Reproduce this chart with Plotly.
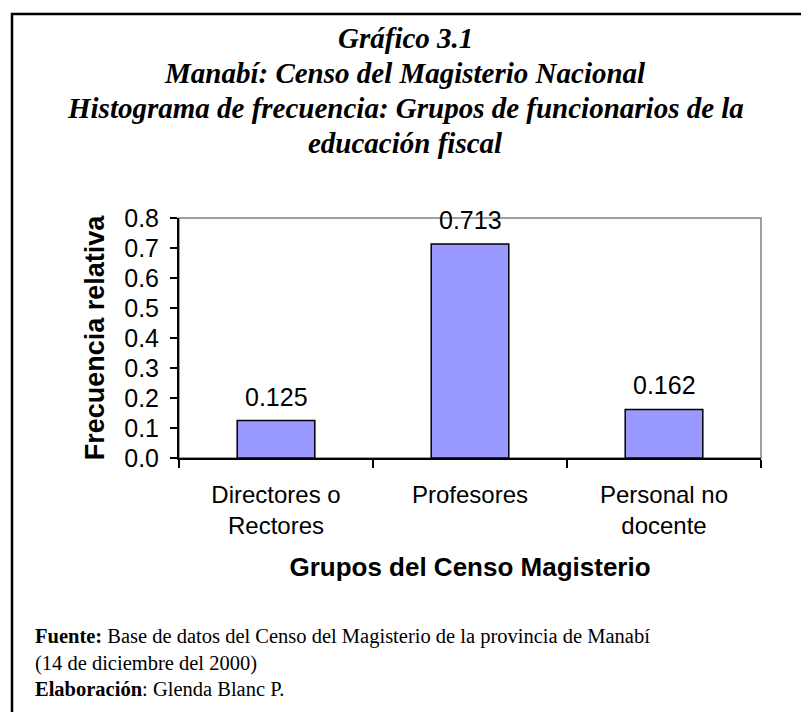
import plotly.graph_objects as go

# data
grupos = ["Directores o<br>Rectores", "Profesores", "Personal no<br>docente"]
frecuencia = [0.125, 0.713, 0.162]
y_ticks = [0.0, 0.1, 0.2, 0.3, 0.4, 0.5, 0.6, 0.7, 0.8]

titulo = ["Gráfico 3.1",
          "Manabí: Censo del Magisterio Nacional",
          "Histograma de frecuencia: Grupos de funcionarios de la",
          "educación fiscal"]
fuente = ["<b>Fuente:</b> Base de datos del Censo del Magisterio de la provincia de Manabí",
          "(14 de diciembre del 2000)",
          "<b>Elaboración</b>: Glenda Blanc P."]

SANS = "Liberation Sans, Arial, sans-serif"
SERIF = "Liberation Serif, Times New Roman, serif"

W, H = 809, 712
OFF = 8  # page body margin
L, T = 179 - OFF, 218 - OFF
pw, ph = 582, 240
R, B = W - L - pw, H - T - ph


def px_x(x):
    return (x - OFF - L) / pw


def px_y(y):
    return (T + ph - (y - OFF)) / ph


fig = go.Figure(
    go.Bar(
        x=grupos,
        y=frecuencia,
        marker=dict(color="#9999FF", line=dict(color="black", width=1.5)),
        width=0.4,
    )
)

# value labels above the bars
for g, v in zip(grupos, frecuencia):
    fig.add_annotation(x=g, y=v, text=f"{v:.3f}", showarrow=False, yshift=24,
                       yanchor="middle", font=dict(family=SANS, size=25, color="black"))

# title, one line at a time
for line, y in zip(titulo, [38, 73, 108, 143]):
    fig.add_annotation(xref="paper", yref="paper", x=px_x(405), y=px_y(y),
                       text=f"<b><i>{line}</i></b>", showarrow=False,
                       xanchor="center", yanchor="middle",
                       font=dict(family=SERIF, size=29, color="black"))

# footer lines
for line, y in zip(fuente, [636, 663, 689]):
    fig.add_annotation(xref="paper", yref="paper", x=px_x(33), y=px_y(y), text=line,
                       showarrow=False, xanchor="left", yanchor="middle", align="left",
                       font=dict(family=SERIF, size=20.5, color="black"))

# outer frame (cut at right and bottom like the source page)
fig.add_shape(type="rect", xref="paper", yref="paper",
              x0=px_x(12), x1=px_x(W + 20), y0=px_y(H + 20), y1=px_y(14),
              line=dict(color="black", width=2.5), layer="below")
# plot area border (top/right grey)
fig.add_shape(type="rect", xref="paper", yref="paper", x0=0, x1=1, y0=0, y1=1,
              line=dict(color="#808080", width=1.5), layer="below")

fig.update_layout(
    width=W, height=H,
    margin=dict(l=L, r=R, t=T, b=B, autoexpand=False),
    paper_bgcolor="white", plot_bgcolor="white",
    showlegend=False,
    xaxis=dict(
        automargin=False,
        showline=True, linecolor="black", linewidth=2,
        ticks="outside", tickson="boundaries", ticklen=8, tickcolor="black", tickwidth=2,
        tickfont=dict(family=SANS, size=24, color="black"),
        ticklabelstandoff=14,
        showgrid=False,
        title=dict(text="<b>Grupos del Censo Magisterio</b>", standoff=20,
                   font=dict(family=SANS, size=26, color="black")),
    ),
    yaxis=dict(
        automargin=False,
        range=[0, 0.8], tickvals=y_ticks, tickformat=".1f",
        showline=True, linecolor="black", linewidth=2,
        ticks="outside", ticklen=7, tickcolor="black", tickwidth=2,
        tickfont=dict(family=SANS, size=25, color="black"),
        ticklabelstandoff=6,
        showgrid=False, zeroline=False,
        title=dict(text="<b>Frecuencia relativa</b>", standoff=12,
                   font=dict(family=SANS, size=27, color="black")),
    ),
)

fig.write_html("out.html")
